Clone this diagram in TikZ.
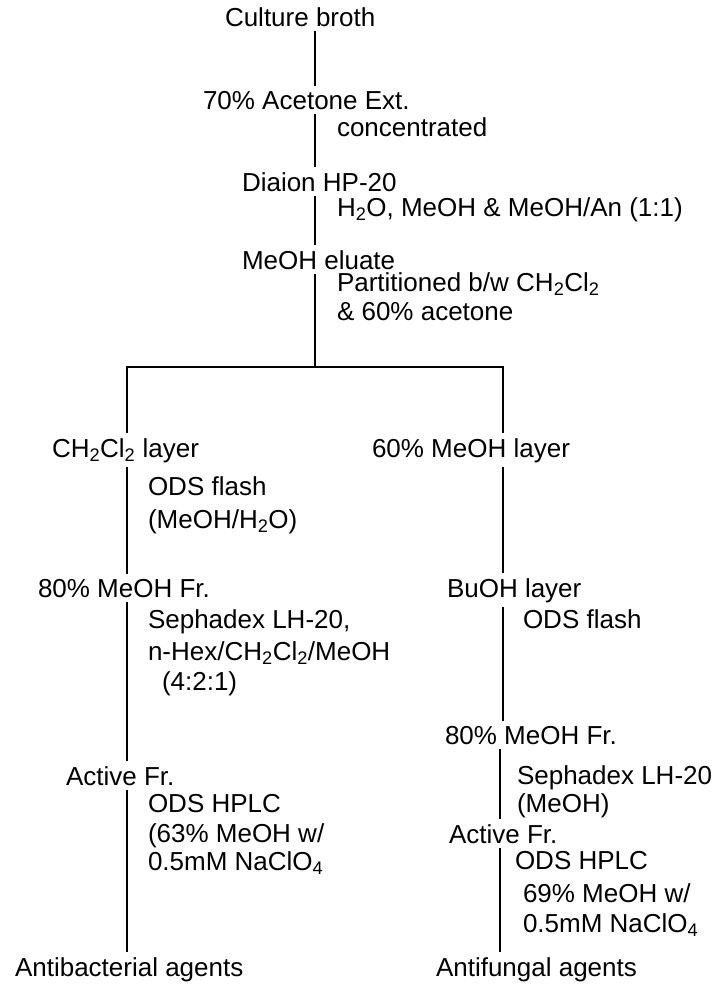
\documentclass[tikz,border=0pt]{standalone}
\usepackage{fontspec}
\setmainfont{Liberation Sans}
\usetikzlibrary{positioning}
\tikzset{
  stepText/.style={
    anchor=base west, inner sep=0pt, outer xsep=0pt, outer ysep=5pt,
    font=\fontsize{26}{31}\selectfont
  },
  condText/.style={
    stepText, align=left, anchor=north west, outer ysep=0pt
  },
  flowLine/.style={
    draw, line width=1.7pt, color=black
  }
}
\begin{document}
\begin{tikzpicture}[x=1pt, y=-1pt]
\useasboundingbox (0,0) rectangle (718,985);

% ── COLUMNS ─────────────────────────────────────────────────────────
\coordinate (trunk) at (315,0);
\coordinate (lx)    at (127,0);
\coordinate (rx)    at (503,0);
\coordinate (rxl)   at (500,0);
\coordinate (split) at (315,367);

% ── STAGE 1: Extraction ────────────────────────────────────────────
\node[stepText] (cb)   at (225,26)  {Culture broth};
\node[stepText] (ace)  at (203,109) {70\% Acetone Ext.};
\node[condText] (conc) at (337,118) {concentrated};
\node[stepText] (hp)   at (242,191) {Diaion HP-20};
\node[condText] (hpCond) at (337,198)
  {H\textsubscript{2}O, MeOH \& MeOH/An (1:1)};
\node[stepText] (meoh) at (242,269) {MeOH eluate};
\node[condText] (partCond) at (337,273)
  {Partitioned b/w CH\textsubscript{2}Cl\textsubscript{2}\\[-2pt]\& 60\% acetone};

% ── STAGE 2: Left branch ───────────────────────────────────────────
\node[stepText] (layA) at (52,457)
  {CH\textsubscript{2}Cl\textsubscript{2} layer};
\node[condText] (odsA) at (148,477)
  {ODS flash\\[2pt](MeOH/H\textsubscript{2}O)};
\node[stepText] (frA)  at (38,597) {80\% MeOH Fr.};
\node[condText] (sephA) at (148,610)
  {Sephadex LH-20,\\[1pt]n-Hex/CH\textsubscript{2}Cl\textsubscript{2}/MeOH\\[-1pt]\hspace*{14pt}(4:2:1)};
\node[stepText] (actA) at (66,785) {Active Fr.};
\node[condText] (hplcA) at (148,794)
  {ODS HPLC\\[-1pt](63\% MeOH w/\\[-3pt]0.5mM NaClO\textsubscript{4}};
\node[stepText] (abA)  at (15,976) {Antibacterial agents};

% ── STAGE 3: Right branch ──────────────────────────────────────────
\node[stepText] (layB) at (372,457) {60\% MeOH layer};
\node[stepText] (buB)  at (447,597) {BuOH layer};
\node[condText] (odsB) at (523,610) {ODS flash};
\node[stepText] (frB)  at (445,744) {80\% MeOH Fr.};
\node[condText] (sephB) at (517,766)
  {Sephadex LH-20\\[-3pt](MeOH)};
\node[stepText] (actB) at (449,843) {Active Fr.};
\node[condText] (hplcB) at (515,851)
  {ODS HPLC\\[2pt]\hspace*{8pt}69\% MeOH w/\\[-1pt]\hspace*{8pt}0.5mM NaClO\textsubscript{4}};
\node[stepText] (afB)  at (436,976) {Antifungal agents};

% ── EDGES ───────────────────────────────────────────────────────────
% Trunk
\draw[flowLine] (cb.south -| trunk)   -- (ace.north -| trunk);
\draw[flowLine] (ace.south -| trunk)  -- (hp.north -| trunk);
\draw[flowLine] (hp.south -| trunk)   -- (meoh.north -| trunk);
\draw[flowLine] (meoh.south -| trunk) -- (split);

% Partition
\draw[flowLine] (layA.north -| lx) |- (split) -| (layB.north -| rx);

% Left branch
\draw[flowLine] (layA.south -| lx) -- (frA.north -| lx);
\draw[flowLine] (frA.south -| lx)  -- (actA.north -| lx);
\draw[flowLine] (actA.south -| lx) -- (abA.north -| lx);

% Right branch
\draw[flowLine] (layB.south -| rx)  -- (buB.north -| rx);
\draw[flowLine] (buB.south -| rx)   -- (frB.north -| rx);
\draw[flowLine] (frB.south -| rxl)  -- (actB.north -| rxl);
\draw[flowLine] (actB.south -| rxl) -- (afB.north -| rxl);

\end{tikzpicture}
\end{document}
